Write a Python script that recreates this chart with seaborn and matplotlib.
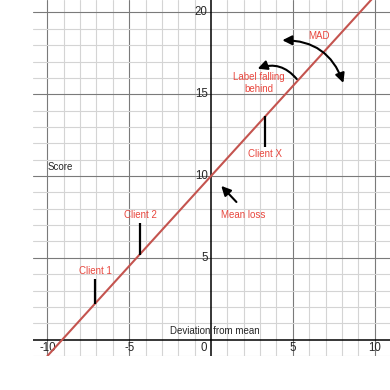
import numpy as np
import pandas as pd
import matplotlib
matplotlib.use("Agg")
import matplotlib.pyplot as plt
import seaborn as sns

# Daten
line_x = [-10, 10]
line_y = [-1, 21]

client_names = ["Client 1", "Client 2", "Client X"]
client_x = [-7.07, -4.34, 3.32]
client_lo = [2.2, 5.2, 11.8]
client_hi = [3.7, 7.1, 13.65]
client_label_y = [4.17, 7.6, 11.33]

x_ticks = [-10, -5, 0, 5, 10]
y_ticks = [5, 10, 15, 20]

red_text = "#e8473e"
red_line = "#c4544f"

sns.set_style("white")
plt.rcParams["font.family"] = ["Liberation Sans", "DejaVu Sans"]

fig = plt.figure(figsize=(3.9, 3.9), dpi=100)
ax = fig.add_axes([33 / 390, 34 / 390, 357 / 390, 356 / 390])
ax.set_xlim(-10.88, 10.94)
ax.set_ylim(-1.0, 20.76)
for s in ax.spines.values():
    s.set_visible(False)

# Gitter: fein jede Einheit, grob alle 5
for v in range(-10, 11):
    if v == 0:
        continue
    ax.axvline(v, color="#7a7a7a" if v % 5 == 0 else "#d4d4d4", lw=0.8, zorder=0)
for v in range(-1, 21):
    if v == 0:
        continue
    ax.axhline(v, color="#7a7a7a" if v % 5 == 0 else "#d4d4d4", lw=0.8, zorder=0)
ax.axhline(0, color="black", lw=1.1, zorder=1)
ax.axvline(0, color="black", lw=1.1, zorder=1)
ax.set_xticks([])
ax.set_yticks([])

for t in x_ticks:
    xpos = -0.43 if t == 0 else t
    ax.text(xpos, -0.5, str(t).replace("-", "-"), ha="center", va="center", fontsize=8.3)
for t in y_ticks:
    ax.text(-0.2, t, str(t), ha="right", va="center", fontsize=8.3)

df = pd.DataFrame({"x": line_x, "y": line_y})
sns.lineplot(data=df, x="x", y="y", ax=ax, color=red_line, lw=1.5, zorder=3)
ax.set_xlabel("")
ax.set_ylabel("")

ax.vlines(client_x, client_lo, client_hi, color="black", lw=1.6, zorder=4)
for name, cx, ly in zip(client_names, client_x, client_label_y):
    ax.text(cx, ly, name, color=red_text, ha="center", va="center", fontsize=7)

ax.text(1.97, 7.6, "Mean loss", color=red_text, ha="center", va="center", fontsize=7)
ax.annotate("", xy=(0.51, 9.52), xytext=(1.67, 8.29),
            arrowprops=dict(arrowstyle="-|>", color="black", lw=1.5, mutation_scale=14))

ax.text(2.95, 15.68, "Label falling\nbehind", color=red_text, ha="center", va="center",
        fontsize=7, linespacing=1.25)
ax.annotate("", xy=(2.85, 16.56), xytext=(5.24, 15.93),
            arrowprops=dict(arrowstyle="-|>", color="black", lw=1.5, mutation_scale=14,
                            connectionstyle="arc3,rad=0.35", shrinkA=0, shrinkB=0))

ax.text(6.62, 18.58, "MAD", color=red_text, ha="center", va="center", fontsize=7)
ax.annotate("", xy=(8.09, 15.69), xytext=(4.36, 18.3),
            arrowprops=dict(arrowstyle="<|-|>", color="black", lw=1.5, mutation_scale=14,
                            connectionstyle="arc3,rad=-0.35", shrinkA=0, shrinkB=0))

ax.text(-10, 10.55, "Score", ha="left", va="center", fontsize=7)
ax.text(-2.5, 0.5, "Deviation from mean", ha="left", va="center", fontsize=7)

fig.savefig("out.png", dpi=100)
